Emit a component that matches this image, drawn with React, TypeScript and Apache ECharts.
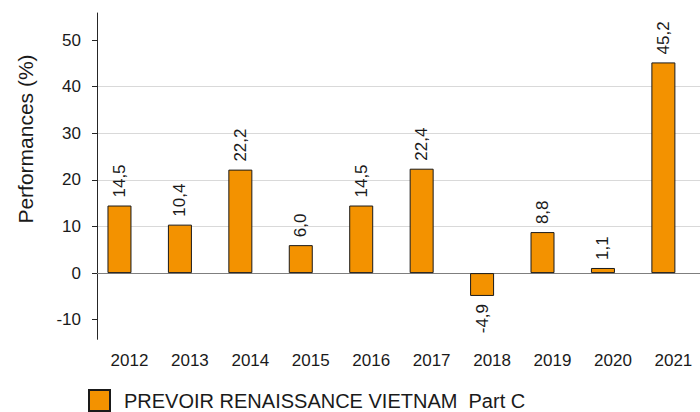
import React, { useEffect, useRef } from "react";
import * as echarts from "echarts";

const YEARS = [2012, 2013, 2014, 2015, 2016, 2017, 2018, 2019, 2020, 2021];
const PERFORMANCES = [14.5, 10.4, 22.2, 6.0, 14.5, 22.4, -4.9, 8.8, 1.1, 45.2];
const Y_TICKS = [-10, 0, 10, 20, 30, 40, 50];
const SERIES_NAME = "PREVOIR RENAISSANCE VIETNAM  Part C";
const Y_TITLE = "Performances (%)";

const FONT = "Liberation Sans, Arial, sans-serif";

export default function App() {
  const ref = useRef<HTMLDivElement>(null);
  useEffect(() => {
    if (!ref.current) return;
    const chart = echarts.init(ref.current, null, { renderer: "svg" });
    const data = YEARS.map((y, i) => {
      const v = PERFORMANCES[i];
      return {
        value: [y, v],
        label:
          v < 0
            ? { position: "bottom", align: "right", verticalAlign: "middle" }
            : { position: "top", align: "left", verticalAlign: "middle" },
      };
    });
    chart.setOption({
      animation: false,
      backgroundColor: "#ffffff",
      textStyle: { fontFamily: FONT },
      grid: { left: 97, right: 0, top: 13, bottom: 72.7, containLabel: false },
      legend: {
        show: true,
        left: 88,
        top: 389,
        itemWidth: 21,
        itemHeight: 21,
        icon: "rect",
        padding: 0,
        data: [SERIES_NAME],
        textStyle: {
          fontFamily: FONT,
          fontSize: 20,
          lineHeight: 20,
          color: "#1a1a1a",
          padding: [0, 0, 0, 9],
        },
      },
      graphic: [
        {
          type: "text",
          x: 25,
          y: 139,
          rotation: Math.PI / 2,
          style: {
            text: Y_TITLE,
            font: "21px " + FONT,
            fill: "#1a1a1a",
            align: "center",
            verticalAlign: "middle",
          },
        },
      ],
      xAxis: {
        type: "value",
        min: 2011.628,
        max: 2021.606,
        axisLine: { show: false },
        axisTick: { show: false },
        splitLine: { show: false },
        axisLabel: {
          customValues: YEARS,
          formatter: (v: number) => String(v),
          fontSize: 17,
          color: "#1a1a1a",
          fontFamily: FONT,
          margin: 13,
          padding: [0, 0, 0, 20],
        },
      },
      yAxis: {
        type: "value",
        min: -14.2,
        max: 55.8,
        axisLine: { show: true, onZero: false, lineStyle: { color: "#262626", width: 1 } },
        axisTick: {
          show: true,
          customValues: Y_TICKS,
          length: 5,
          lineStyle: { color: "#262626", width: 1 },
        },
        axisLabel: {
          customValues: Y_TICKS,
          fontSize: 17,
          color: "#1a1a1a",
          fontFamily: FONT,
          margin: 16,
        },
        splitLine: {
          show: true,
          showMinLine: false,
          showMaxLine: false,
          lineStyle: { color: "#d9d9d9", width: 1 },
        },
      },
      series: [
        {
          name: SERIES_NAME,
          type: "bar",
          barWidth: 24,
          data,
          itemStyle: { color: "#F39200", borderColor: "#1a1a1a", borderWidth: 1 },
          label: {
            show: true,
            rotate: 90,
            distance: 8,
            fontSize: 17,
            color: "#1a1a1a",
            fontFamily: FONT,
            formatter: (p: any) => Number(p.value[1]).toFixed(1).replace(".", ","),
          },
          markLine: {
            silent: true,
            symbol: "none",
            z: 1,
            label: { show: false },
            lineStyle: { color: "#7f7f7f", width: 1, type: "solid" },
            data: [{ yAxis: 0 }],
          },
        },
      ],
    });
    return () => chart.dispose();
  }, []);
  return (
    <div
      ref={ref}
      style={{ position: "fixed", left: 0, top: 0, width: 700, height: 412 }}
    />
  );
}
